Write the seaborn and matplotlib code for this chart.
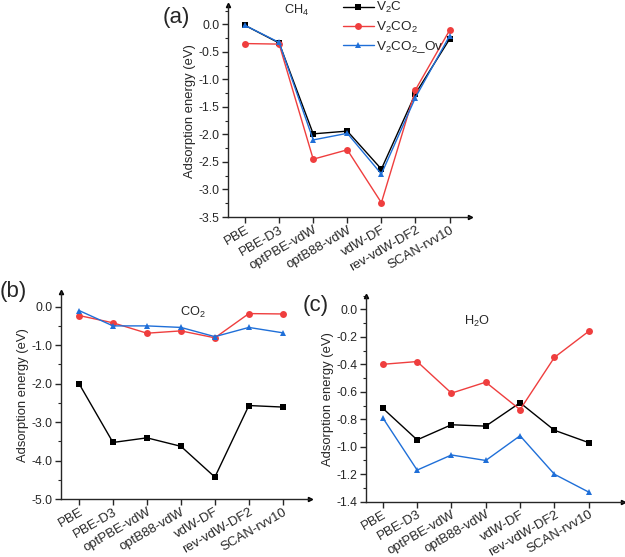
import numpy as np
import pandas as pd
import matplotlib
matplotlib.use("Agg")
import matplotlib.pyplot as plt
from matplotlib.ticker import MultipleLocator, AutoMinorLocator
import seaborn as sns

# Functionals (x categories)
methods = ["PBE", "PBE-D3", "optPBE-vdW", "optB88-vdW", "vdW-DF", "rev-vdW-DF2", "SCAN-rvv10"]
substrates = ["V$_2$C", "V$_2$CO$_2$", "V$_2$CO$_2$_Ov"]

# (a) CH4 adsorption energies (eV)
ch4_v2c = [-0.02, -0.34, -1.99, -1.94, -2.63, -1.26, -0.27]
ch4_v2co2 = [-0.35, -0.36, -2.45, -2.28, -3.24, -1.19, -0.11]
ch4_v2co2_ov = [-0.02, -0.33, -2.10, -1.98, -2.72, -1.33, -0.21]

# (b) CO2 adsorption energies (eV)
co2_v2c = [-2.00, -3.53, -3.41, -3.63, -4.43, -2.57, -2.61]
co2_v2co2 = [-0.23, -0.42, -0.69, -0.63, -0.81, -0.18, -0.19]
co2_v2co2_ov = [-0.10, -0.50, -0.50, -0.54, -0.78, -0.54, -0.68]

# (c) H2O adsorption energies (eV)
h2o_v2c = [-0.72, -0.95, -0.84, -0.85, -0.68, -0.88, -0.97]
h2o_v2co2 = [-0.40, -0.38, -0.61, -0.53, -0.73, -0.35, -0.16]
h2o_v2co2_ov = [-0.79, -1.17, -1.06, -1.10, -0.92, -1.20, -1.33]

palette = {substrates[0]: "#000000", substrates[1]: "#ef3e3e", substrates[2]: "#1f6fd8"}
markers = {substrates[0]: "s", substrates[1]: "o", substrates[2]: "^"}


def to_long(v2c, v2co2, ov):
    rows = []
    for name, vals in zip(substrates, [v2c, v2co2, ov]):
        for i, (m, v) in enumerate(zip(methods, vals)):
            rows.append({"pos": i, "method": m, "substrate": name, "energy": v})
    return pd.DataFrame(rows)


sns.set_style("ticks")
plt.rcParams["font.family"] = ["Liberation Sans", "DejaVu Sans"]
plt.rcParams["mathtext.fontset"] = "custom"
plt.rcParams["mathtext.rm"] = "Liberation Sans"
plt.rcParams["mathtext.it"] = "Liberation Sans:italic"
plt.rcParams["axes.unicode_minus"] = False

fig = plt.figure(figsize=(6.25, 5.57), dpi=100)

panels = [
    # rect, data, ylim, y major step, xlim, molecule label pos, molecule, legend
    ([0.3648, 0.6104, 0.3872, 0.3806], (ch4_v2c, ch4_v2co2, ch4_v2co2_ov),
     (-3.5, 0.35), 0.5, (-0.5, 6.6), (1.52, 0.25), "CH$_4$", True),
    ([0.0976, 0.1041, 0.3984, 0.3716], (co2_v2c, co2_v2co2, co2_v2co2_ov),
     (-5.0, 0.38), 1.0, (-0.53, 6.8), (3.35, -0.15), "CO$_2$", False),
    ([0.5856, 0.0993, 0.4112, 0.3700], (h2o_v2c, h2o_v2co2, h2o_v2co2_ov),
     (-1.4, 0.1), 0.2, (-0.49, 7.0), (2.73, -0.09), "H$_2$O", False),
]

for rect, data, ylim, major, xlim, txt, mol, leg in panels:
    ax = fig.add_axes(rect)
    df = to_long(*data)
    sns.lineplot(data=df, x="pos", y="energy", hue="substrate", style="substrate",
                 palette=palette, markers=markers, dashes=False, markersize=5,
                 markeredgewidth=0, linewidth=1, sort=False, ax=ax, legend=leg,
                 clip_on=False)
    ax.set_xlim(*xlim)
    ax.set_ylim(*ylim)
    ax.yaxis.set_major_locator(MultipleLocator(major))
    ax.yaxis.set_minor_locator(AutoMinorLocator(2))
    ax.yaxis.set_major_formatter(plt.FuncFormatter(lambda v, p: "{:.1f}".format(v).replace("-0.0", "0.0")))
    ax.set_xticks(range(len(methods)))
    ax.set_xticklabels(methods, rotation=30, ha="right", rotation_mode="anchor", fontsize=9.5)
    ax.tick_params(axis="y", labelsize=8.7, length=4, width=1, pad=2)
    ax.tick_params(axis="y", which="minor", length=2, width=0.8)
    ax.tick_params(axis="x", length=4, width=1, pad=1)
    for s in ["top", "right"]:
        ax.spines[s].set_visible(False)
    for s in ["left", "bottom"]:
        ax.spines[s].set_linewidth(1)
    ax.plot(1, 0, ">k", transform=ax.transAxes, clip_on=False, markersize=3)
    ax.plot(0, 1, "^k", transform=ax.transAxes, clip_on=False, markersize=3)
    ax.set_xlabel("")
    ax.set_ylabel("Adsorption energy (eV)", fontsize=9.4, labelpad=2)
    ax.text(txt[0], txt[1], mol, fontsize=9.2, ha="center", va="center")
    if leg:
        ax.legend(loc="upper left", bbox_to_anchor=(0.44, 1.06), frameon=False,
                  fontsize=9.7, handlelength=2.3, handletextpad=0.2, labelspacing=0.32,
                  borderpad=0.1)

fig.text(163 / 625, 1 - 18 / 557, "(a)", fontsize=16, va="center", ha="left")
fig.text(0 / 625, 1 - 292 / 557, "(b)", fontsize=16, va="center", ha="left")
fig.text(303 / 625, 1 - 305 / 557, "(c)", fontsize=16, va="center", ha="left")

fig.savefig("out.png", dpi=100)
